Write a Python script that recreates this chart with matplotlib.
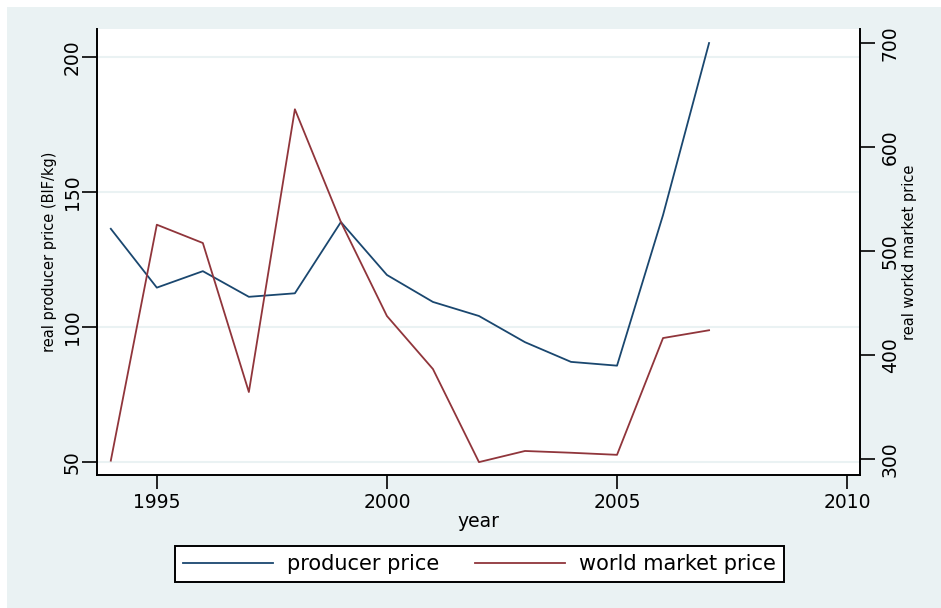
import matplotlib.pyplot as plt
from matplotlib.patches import Rectangle
from matplotlib.lines import Line2D

# data
years = [1994, 1995, 1996, 1997, 1998, 1999, 2000, 2001, 2002, 2003, 2004, 2005, 2006, 2007]
producer_price = [136.4, 114.6, 120.7, 111.2, 112.5, 138.9, 119.3, 109.3, 104.1, 94.4, 87.1, 85.7, 141.5, 205.2]
world_price = [298.4, 525.3, 507.7, 364.4, 636.3, 527.9, 437.5, 386.5, 297.0, 307.7, 306.0, 304.0, 416.3, 423.8]

x_ticks = [1995, 2000, 2005, 2010]
left_ticks = [50, 100, 150, 200]
right_ticks = [300, 400, 500, 600, 700]

blue = '#1a476f'
red = '#90353b'
bg = '#eaf2f3'

W, H = 941, 608
fig = plt.figure(figsize=(W / 100, H / 100), dpi=100, facecolor='white')
fig.patches.append(Rectangle((7 / W, 0), 1, 1 - 7 / H, transform=fig.transFigure,
                             facecolor=bg, edgecolor='none', zorder=-10))

ax = fig.add_axes([97 / W, 1 - 475 / H, (860 - 97) / W, (475 - 29) / H])
ax.set_facecolor('white')
ax2 = ax.twinx()

ax.plot(years, producer_price, color=blue, lw=1.3, zorder=3)
ax2.plot(years, world_price, color=red, lw=1.3, zorder=3)

ax.set_xlim(1993.7, 2010.28)
ax.set_ylim(45.2, 210.4)
ax2.set_ylim(284.6, 713.5)

ax.set_xticks(x_ticks)
ax.set_yticks(left_ticks)
ax2.set_yticks(right_ticks)
ax.grid(axis='y', color=bg, lw=1.5, zorder=0)
ax.set_axisbelow(True)

for a in (ax, ax2):
    a.spines['top'].set_visible(False)
    for s in a.spines.values():
        s.set_linewidth(1.4)
        s.set_color('black')
ax.spines['right'].set_visible(False)
ax2.spines['left'].set_visible(False)
ax2.spines['bottom'].set_visible(False)

ax.tick_params(axis='x', length=10, width=1.2, pad=3, labelsize=13.5)
ax.tick_params(axis='y', length=11, width=1.2, pad=0, labelsize=13.5, labelrotation=90)
ax2.tick_params(axis='y', length=11, width=1.2, pad=4, labelsize=13.5, labelrotation=90)
for lab in ax.get_yticklabels() + ax2.get_yticklabels():
    lab.set_verticalalignment('center')

ax.set_xlabel('year', fontsize=13.5, labelpad=0)
ax.set_ylabel('real producer price (BIF/kg)', fontsize=10.5, labelpad=4)
ax2.set_ylabel('real workd market price', fontsize=10.5, labelpad=1.5)

handles = [Line2D([], [], color=blue, lw=1.3), Line2D([], [], color=red, lw=1.3)]
leg = fig.legend(handles, ['producer price', 'world market price'], ncol=2,
                 loc='center', bbox_to_anchor=((170 + 789) / 2 / W, 1 - 564 / H),
                 fontsize=15, frameon=True, fancybox=False, framealpha=1,
                 handlelength=4.33, handletextpad=0.67, columnspacing=1.7,
                 borderpad=0.4)
leg.get_frame().set_edgecolor('black')
leg.get_frame().set_facecolor('white')
leg.get_frame().set_linewidth(1.4)

fig.savefig('out.png', dpi=100, facecolor='white')
